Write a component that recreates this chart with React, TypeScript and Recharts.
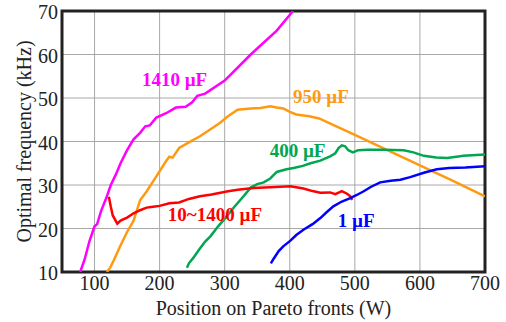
import {
  CartesianGrid,
  Line,
  LineChart,
  ReferenceArea,
  ReferenceDot,
  XAxis,
  YAxis,
} from "recharts";

// [position (W), optimal frequency (kHz)]
const cap1410: [number, number][] = [
  [78, 10], [85, 13], [92, 17], [100, 20.5], [104, 21], [110, 24], [118, 27],
  [125, 30], [133, 32.5], [140, 35], [150, 38], [160, 40.5], [170, 42],
  [178, 43.5], [185, 43.7], [195, 45.5], [210, 46.5], [225, 47.8], [240, 48],
  [250, 49], [258, 50.5], [270, 51], [300, 54], [340, 60], [380, 65.5], [405, 70],
];

const cap950: [number, number][] = [
  [119, 10], [124, 11], [130, 12.8], [139, 15.8], [150, 19.2], [160, 21.8],
  [170, 26.5], [180, 28.5], [195, 32], [210, 35.5], [215, 36.5], [220, 36.3],
  [230, 38.5], [245, 39.8], [262, 41.2], [280, 43], [293, 44.3], [305, 45.8],
  [320, 47.3], [340, 47.6], [355, 47.7], [370, 48.1], [380, 47.8], [390, 47.6],
  [400, 46.8], [410, 46.2], [430, 45.8], [445, 45.3], [500, 41.5], [550, 38],
  [600, 34.5], [650, 31], [700, 27.4],
];

const cap400: [number, number][] = [
  [242, 11], [245, 12], [252, 13.3], [260, 15], [270, 17], [278, 18.2],
  [290, 20.5], [303, 22.8], [315, 25], [329, 27.4], [340, 29.4], [350, 30.2],
  [360, 30.6], [370, 31.5], [380, 33], [395, 33.6], [406, 33.9], [420, 34.4],
  [432, 35], [447, 35.6], [462, 36.6], [470, 37.3], [475, 38.5], [480, 39.1],
  [485, 38.9], [490, 38], [497, 37.5], [505, 38], [520, 38.1], [545, 38.1],
  [575, 38], [590, 37.5], [606, 36.7], [625, 36.3], [642, 36.2], [667, 36.7],
  [700, 37],
];

const capRange: [number, number][] = [
  [122, 27.3], [125, 25], [128, 23], [135, 21.1], [140, 21.8], [150, 22.5],
  [160, 23.5], [170, 24.2], [180, 24.8], [190, 25], [200, 25.2], [215, 25.8],
  [230, 26], [245, 26.8], [262, 27.4], [280, 27.8], [303, 28.5], [320, 28.9],
  [344, 29.3], [370, 29.5], [401, 29.7], [421, 29.2], [435, 28.6], [447, 28.2],
  [462, 28.3], [470, 27.9], [480, 28.6], [488, 28], [493, 27.4], [496, 26.6],
];

const cap1: [number, number][] = [
  [371, 12], [375, 13], [383, 14.8], [390, 15.9], [401, 17.2], [410, 18.5],
  [421, 19.7], [435, 21], [447, 22.4], [457, 23.8], [467, 25.1], [480, 26.2],
  [493, 27], [503, 27.7], [513, 28.5], [525, 29.6], [539, 30.6], [555, 31],
  [570, 31.2], [585, 31.8], [606, 32.8], [626, 33.6], [645, 33.9], [670, 34],
  [700, 34.3],
];

const xTicks = [100, 200, 300, 400, 500, 600, 700];
const yTicks = [10, 20, 30, 40, 50, 60, 70];

const series = [
  { name: "1410 µF", pts: cap1410, color: "#ff00ff", at: [223, 54.4] },
  { name: "950 µF", pts: cap950, color: "#ff9a10", at: [448, 50.5] },
  { name: "400 µF", pts: cap400, color: "#00a650", at: [412, 38.1] },
  { name: "10~1400 µF", pts: capRange, color: "#ff0000", at: [285, 23.2] },
  { name: "1 µF", pts: cap1, color: "#0000ff", at: [502, 21.8] },
];

const font = "'Liberation Serif', 'Times New Roman', serif";
const ink = "#222";
const txt = { fontFamily: font, fontSize: 20 };

const XTick = ({ x, y, payload }: any) => (
  <text x={x} y={y + 18} textAnchor="middle" style={txt} fill={ink}>
    {payload.value}
  </text>
);

const YTick = ({ x, y, payload }: any) => (
  <text x={x} y={y + 8} textAnchor="end" style={txt} fill={ink}>
    {payload.value}
  </text>
);

const XTitle = ({ viewBox }: any) => (
  <text
    x={viewBox.x + viewBox.width / 2}
    y={315}
    textAnchor="middle"
    style={txt}
    fill={ink}
  >
    Position on Pareto fronts (W)
  </text>
);

const YTitle = ({ viewBox }: any) => {
  const cx = 31;
  const cy = viewBox.y + viewBox.height / 2;
  return (
    <text
      x={cx}
      y={cy}
      transform={`rotate(-90 ${cx} ${cy})`}
      textAnchor="middle"
      style={txt}
      fill={ink}
    >
      Optimal frequency (kHz)
    </text>
  );
};

export default function App() {
  return (
    <div style={{ position: "absolute", left: 0, top: 0, fontFamily: font }}>
      <LineChart
        width={506}
        height={322}
        margin={{ top: 11, right: 21, left: 0, bottom: 0 }}
        style={{ fontFamily: font }}
      >
        <CartesianGrid stroke="#a8a8a8" strokeWidth={1} />
        <XAxis
          type="number"
          dataKey="x"
          domain={[50, 700]}
          ticks={xTicks}
          allowDataOverflow
          height={50}
          tickSize={0}
          tickMargin={0}
          axisLine={false}
          tick={<XTick />}
          label={<XTitle />}
        />
        <YAxis
          type="number"
          dataKey="y"
          domain={[10, 70]}
          ticks={yTicks}
          allowDataOverflow
          width={62}
          tickSize={0}
          tickMargin={4}
          axisLine={false}
          tick={<YTick />}
          label={<YTitle />}
        />
        {series.map((s) => (
          <Line
            key={s.name}
            data={s.pts.map(([x, y]) => ({ x, y }))}
            dataKey="y"
            type="linear"
            stroke={s.color}
            strokeWidth={2.5}
            dot={false}
            isAnimationActive={false}
          />
        ))}
        <ReferenceArea
          x1={50}
          x2={700}
          y1={10}
          y2={70}
          fill="none"
          stroke={ink}
          strokeWidth={3}
        />
        {series.map((s) => (
          <ReferenceDot
            key={"l" + s.name}
            x={s.at[0]}
            y={s.at[1]}
            r={0}
            fill="none"
            stroke="none"
            label={{
              value: s.name,
              position: "center",
              fill: s.color,
              fontSize: 19,
              fontWeight: "bold",
              fontFamily: font,
            }}
          />
        ))}
      </LineChart>
    </div>
  );
}
